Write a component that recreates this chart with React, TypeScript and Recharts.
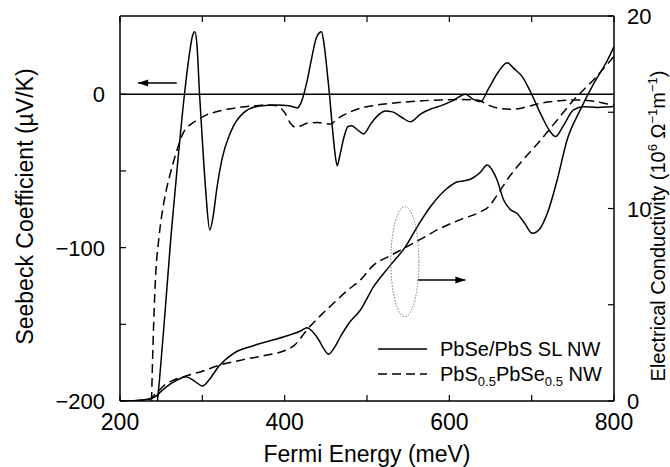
import React from 'react';
import {
  LineChart,
  Line,
  XAxis,
  YAxis,
  ReferenceLine,
  ReferenceDot,
} from 'recharts';

// Seebeck coefficient (uV/K) vs Fermi energy (meV)
const slSeebeckE = [245.5, 248, 255, 262, 270, 278.3, 284, 288, 290.9, 293.5, 296.6, 300, 304, 309, 313, 318, 324, 334, 350, 370, 391, 405, 415.6, 421, 427, 433, 438, 442, 444.7, 447.5, 451, 454.4, 458, 461, 463.8, 467, 472, 477, 481.3, 488, 495.8, 505, 515, 522, 531, 542, 552.8, 565, 578, 589.3, 605, 619.6, 628, 637.9, 648, 660, 670.3, 678, 688.5, 700, 712, 722, 729, 738, 750.8, 763, 780, 792, 800];
const slSeebeckS = [-200, -186, -140, -92, -45, 0, 25, 38, 40.8, 32, 0, -30, -62, -88.5, -80, -60, -42, -25.2, -12.2, -7.6, -7, -7.5, -8.9, -4, 8, 24, 36, 40, 40.8, 34, 18, 0, -22, -38, -46.6, -40, -28, -21, -20.5, -23, -25.9, -19, -13, -11, -11.5, -15, -18, -13, -9.5, -7.6, -4, 0, -3, -4.8, 4, 15, 20.6, 17, 11.5, 0, -14, -24, -27.6, -21, -10.2, -8.1, -8.6, -8.3, -8];

const alloySeebeckE = [238.3, 240, 243, 247, 251, 256, 260, 265, 269.5, 277, 285, 294, 305, 318, 330, 346, 365, 379, 391, 400, 407, 413, 420, 427, 440, 448, 456, 464, 472, 482, 492, 510, 529, 560, 589, 615, 634, 642, 650, 665, 678, 692, 711, 730, 751, 771, 785, 792, 800];
const alloySeebeckS = [-200, -165, -121, -95, -78, -63, -54, -44, -36, -25, -20, -16.8, -13.5, -11.3, -9.8, -8.5, -7.5, -7, -7.6, -12, -18.9, -21.5, -20.5, -18.9, -18.5, -19, -19.4, -16, -13.5, -11, -9.1, -7.2, -5.9, -4.5, -3.7, -3.5, -3.7, -5.5, -7.6, -9.5, -9.8, -8.5, -5.9, -4.5, -3.7, -4.2, -5.5, -6.3, -7];

// Electrical conductivity (10^6 1/(Ohm m))
const slCondE = [200, 220, 235, 242, 250, 260, 270, 280, 290, 300, 310, 320, 338, 362, 403, 420, 427, 434, 441.5, 447, 453.6, 460, 467.8, 478, 492, 508, 528.5, 546.8, 561, 577, 597.5, 610, 620, 628, 638, 646, 652, 658, 666, 674, 682, 692, 700.7, 710, 719, 731, 743, 759, 775.5, 792, 800];
const slCondC = [0, 0.03, 0.1, 0.2, 0.5, 0.85, 1.1, 1.26, 1.05, 0.78, 1.2, 1.8, 2.48, 2.87, 3.39, 3.65, 3.81, 3.6, 3.17, 2.75, 2.43, 2.75, 3.34, 4.04, 4.73, 5.94, 7.06, 8.02, 9.05, 10.09, 11.05, 11.39, 11.45, 11.57, 11.9, 12.26, 12.0, 11.48, 10.44, 9.95, 9.75, 9.2, 8.71, 8.95, 9.75, 11.48, 13.56, 15.12, 16.5, 17.7, 18.4];

const alloyCondE = [200, 225, 236, 245, 255, 265, 280, 300, 320, 350, 380, 399, 412, 427, 445, 460, 475, 492, 508, 526, 545, 567, 589, 615, 638, 648, 654, 662, 670, 686, 711, 731, 751, 775, 800];
const alloyCondC = [0, 0.02, 0.1, 0.45, 0.85, 1.08, 1.3, 1.55, 1.85, 2.15, 2.4, 2.6, 2.9, 3.69, 4.5, 5.1, 5.7, 6.29, 7.06, 7.5, 7.93, 8.45, 8.97, 9.45, 9.83, 10.1, 10.44, 10.95, 11.48, 12.35, 13.56, 14.6, 15.64, 16.68, 17.9];

const xTicks = [200, 300, 400, 500, 600, 700, 800];
const xLabels = [200, 400, 600, 800];
const leftTicks = [-200, -150, -100, -50, 0];
const leftLabels = [-200, -100, 0];
const rightTicks = [0, 5, 10, 15, 20];
const rightLabels = [0, 10, 20];

const FONT = '"Liberation Sans", Arial, Helvetica, sans-serif';
const TICK = 6;

const toRows = (xs: number[], ys: number[]) => xs.map((e, i) => ({ e, v: ys[i] }));
const fmt = (v: number) => (v < 0 ? `\u2212${-v}` : String(v));

const BottomTick = ({ x, y, payload }: any) => (
  <g>
    <line x1={x} y1={y} x2={x} y2={y - TICK} stroke="#000" strokeWidth={1.2} />
    {xLabels.includes(payload.value) && (
      <text x={x} y={y + 29} textAnchor="middle" fontSize={23} fontFamily={FONT} fill="#000">
        {payload.value}
      </text>
    )}
  </g>
);

const TopTick = ({ x, y }: any) => (
  <line x1={x} y1={y} x2={x} y2={y + TICK} stroke="#000" strokeWidth={1.2} />
);

const LeftTick = ({ x, y, payload }: any) => (
  <g>
    <line x1={x} y1={y} x2={x + TICK} y2={y} stroke="#000" strokeWidth={1.2} />
    {leftLabels.includes(payload.value) && (
      <text x={x - 15} y={y + 8} textAnchor="end" fontSize={22} fontFamily={FONT} fill="#000">
        {fmt(payload.value)}
      </text>
    )}
  </g>
);

const RightTick = ({ x, y, payload }: any) => (
  <g>
    <line x1={x} y1={y} x2={x - TICK} y2={y} stroke="#000" strokeWidth={1.2} />
    {rightLabels.includes(payload.value) && (
      <text x={x + 13} y={y + 8} textAnchor="start" fontSize={22} fontFamily={FONT} fill="#000">
        {payload.value}
      </text>
    )}
  </g>
);

const arrowShape = (headAtStart: boolean) => (props: any) => {
  const { x1, y1, x2, y2 } = props;
  if (x1 == null || x2 == null) return null;
  const tip = headAtStart ? x1 : x2;
  const d = headAtStart ? 10 : -10;
  return (
    <g>
      <line x1={x1} y1={y1} x2={x2} y2={y2} stroke="#000" strokeWidth={1.5} />
      <polygon points={`${tip},${y1} ${tip + d},${y1 - 3.5} ${tip + d},${y1 + 3.5}`} fill="#000" />
    </g>
  );
};

const ellipseShape = (props: any) => (
  <ellipse cx={props.cx} cy={props.cy} rx={14} ry={55} fill="none" stroke="#777" strokeWidth={1} strokeDasharray="1.5 1.5" />
);

export default function App() {
  const slSeebeck = toRows(slSeebeckE, slSeebeckS);
  const alloySeebeck = toRows(alloySeebeckE, alloySeebeckS);
  const slCond = toRows(slCondE, slCondC);
  const alloyCond = toRows(alloyCondE, alloyCondC);

  return (
    <div style={{ position: 'absolute', left: 0, top: 0, width: 670, height: 467, background: '#fff' }}>
      <LineChart width={670} height={467} margin={{ top: 0, right: 0, bottom: 0, left: 0 }}>
        <XAxis
          dataKey="e"
          type="number"
          domain={[200, 800]}
          ticks={xTicks}
          interval={0}
          height={66}
          tickSize={0}
          tickMargin={0}
          tickLine={false}
          tick={BottomTick}
          axisLine={{ stroke: '#000', strokeWidth: 1.5 }}
          allowDataOverflow
        />
        <XAxis
          xAxisId="top"
          orientation="top"
          dataKey="e"
          type="number"
          domain={[200, 800]}
          ticks={xTicks}
          interval={0}
          height={16}
          tickSize={0}
          tickMargin={0}
          tickLine={false}
          tick={TopTick}
          axisLine={{ stroke: '#000', strokeWidth: 1.5 }}
          allowDataOverflow
        />
        <YAxis
          yAxisId="left"
          type="number"
          domain={[-200, 51]}
          ticks={leftTicks}
          interval={0}
          width={120}
          tickSize={0}
          tickMargin={0}
          tickLine={false}
          tick={LeftTick}
          axisLine={{ stroke: '#000', strokeWidth: 1.5 }}
          allowDataOverflow
        />
        <YAxis
          yAxisId="right"
          orientation="right"
          type="number"
          domain={[0, 20]}
          ticks={rightTicks}
          interval={0}
          width={56}
          tickSize={0}
          tickMargin={0}
          tickLine={false}
          tick={RightTick}
          axisLine={{ stroke: '#000', strokeWidth: 1.5 }}
          allowDataOverflow
        />
        <ReferenceLine yAxisId="left" y={0} stroke="#000" strokeWidth={1.3} />
        <Line yAxisId="left" data={slSeebeck} dataKey="v" type="monotone" stroke="#000" strokeWidth={1.5} dot={false} isAnimationActive={false} />
        <Line yAxisId="left" data={alloySeebeck} dataKey="v" type="monotone" stroke="#000" strokeWidth={1.5} strokeDasharray="9 5" dot={false} isAnimationActive={false} />
        <Line yAxisId="right" data={slCond} dataKey="v" type="monotone" stroke="#000" strokeWidth={1.5} dot={false} isAnimationActive={false} />
        <Line yAxisId="right" data={alloyCond} dataKey="v" type="monotone" stroke="#000" strokeWidth={1.5} strokeDasharray="9 5" dot={false} isAnimationActive={false} />
        <ReferenceLine
          yAxisId="left"
          segment={[{ x: 222, y: 7.4 }, { x: 269, y: 7.4 }]}
          shape={arrowShape(true)}
        />
        <ReferenceLine
          yAxisId="right"
          segment={[{ x: 561.5, y: 6.29 }, { x: 619.5, y: 6.29 }]}
          shape={arrowShape(false)}
        />
        <ReferenceDot yAxisId="right" x={546} y={7.24} shape={ellipseShape} />
      </LineChart>
      <svg width={670} height={467} style={{ position: 'absolute', left: 0, top: 0, pointerEvents: 'none' }} fontFamily={FONT}>
        <text x={367} y={462} textAnchor="middle" fontSize={23} fill="#000">Fermi Energy (meV)</text>
        <text transform="translate(33,206.5) rotate(-90)" textAnchor="middle" fontSize={23} fill="#000">
          Seebeck Coefficient (µV/K)
        </text>
        <text transform="translate(665,226) rotate(-90)" textAnchor="middle" fontSize={20} fill="#000">
          Electrical Conductivity (10<tspan dy={-8} fontSize={13}>6</tspan>
          <tspan dy={8}> Ω</tspan>
          <tspan dy={-8} fontSize={13}>−1</tspan>
          <tspan dy={8}>m</tspan>
          <tspan dy={-8} fontSize={13}>−1</tspan>
          <tspan dy={8}>)</tspan>
        </text>
        <line x1={378} y1={349} x2={427} y2={349} stroke="#000" strokeWidth={1.5} />
        <text x={440} y={356} fontSize={20} fill="#000">PbSe/PbS SL NW</text>
        <line x1={378} y1={374} x2={427} y2={374} stroke="#000" strokeWidth={1.5} strokeDasharray="9 5" />
        <text x={440} y={381} fontSize={20} fill="#000">
          PbS<tspan dy={5} fontSize={13}>0.5</tspan>
          <tspan dy={-5}>PbSe</tspan>
          <tspan dy={5} fontSize={13}>0.5</tspan>
          <tspan dy={-5}> NW</tspan>
        </text>
      </svg>
    </div>
  );
}
